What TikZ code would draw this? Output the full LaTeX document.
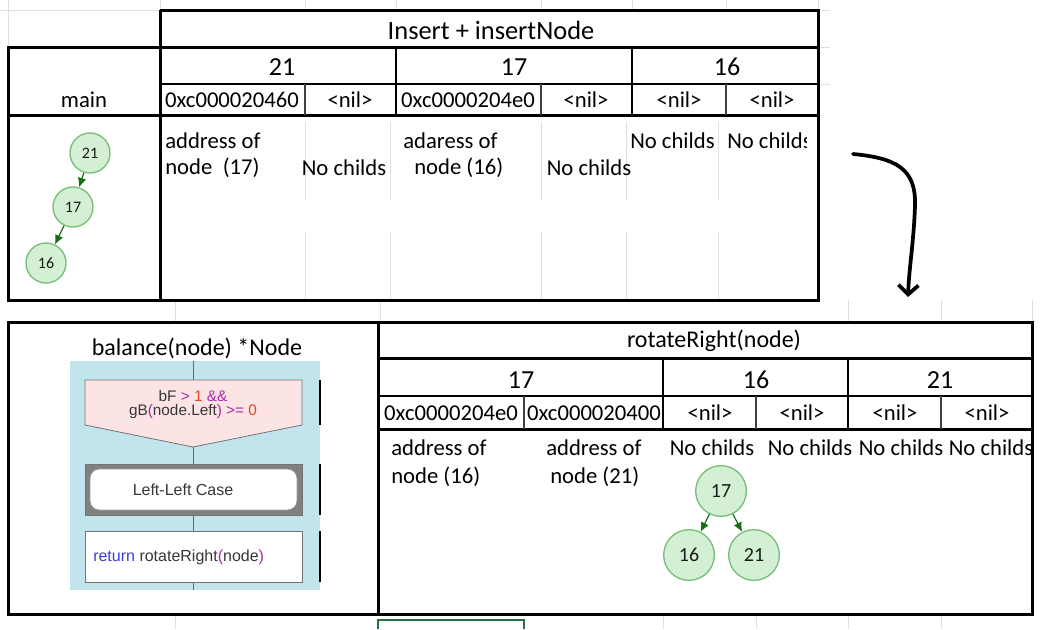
\documentclass[tikz,border=0pt]{standalone}
\usepackage{fontspec}
\setmainfont{Carlito}
\newfontfamily\flowfont{Liberation Sans}
\usetikzlibrary{arrows.meta}

\definecolor{nodeFill}{RGB}{212,240,212}
\definecolor{nodeLine}{RGB}{120,190,120}
\definecolor{edgeGreen}{RGB}{20,110,20}
\definecolor{flowBlue}{RGB}{194,228,236}
\definecolor{condPink}{RGB}{253,228,228}
\definecolor{opPurple}{RGB}{170,40,170}
\definecolor{numRed}{RGB}{225,70,40}
\definecolor{kwBlue}{RGB}{60,60,210}
\definecolor{codeGray}{RGB}{55,55,55}
\definecolor{caseGray}{RGB}{128,128,128}
\definecolor{selGreen}{RGB}{33,115,70}

\begin{document}
\begin{tikzpicture}[x=0.75pt,y=0.75pt,yscale=-1,xscale=1,
  thickline/.style={line width=2.25pt},
  midline/.style={line width=1.5pt},
  cellline/.style={line width=0.8pt,color=black!75},
  gridline/.style={line width=0.75pt,color=black!12},
  titletxt/.style={inner sep=0pt,font=\fontsize{18}{22}\selectfont},
  numtxt/.style={inner sep=0pt,font=\fontsize{19.5}{22}\selectfont},
  bodytxt/.style={inner sep=0pt,font=\fontsize{17}{20}\selectfont},
  treenode/.style={circle,draw=nodeLine,fill=nodeFill,line width=1pt,inner sep=0pt,text=black!90},
  treeedge/.style={edgeGreen,line width=0.9pt,-{Latex[length=7pt,width=6.5pt]}},
  flowtxt/.style={inner sep=0pt,text=codeGray,font=\flowfont\fontsize{11.5}{14}\selectfont}]
\useasboundingbox (0,0) rectangle (1048,629);

%Grid lines of the sheet
\draw[gridline] (8,0) -- (8,47) (0,10) -- (160,10) (160,0) -- (160,10) (305,0) -- (305,10) (396,0) -- (396,10) (541,0) -- (541,10) (632,0) -- (632,10) (726,0) -- (726,10) (818,0) -- (818,10);
\draw[gridline] (818,10) -- (830,10) (818,47) -- (830,47) (818,84) -- (830,84);
\draw[gridline] (305,122) -- (305,200) (305,232) -- (305,300) (390,122) -- (390,200) (390,232) -- (390,300) (541,122) -- (541,200) (541,232) -- (541,300) (626,122) -- (626,200) (626,232) -- (626,300) (718,122) -- (718,200) (718,232) -- (718,300);
\draw[gridline] (175,300) -- (175,322) (380,300) -- (380,322) (848,300) -- (848,322) (941,300) -- (941,322) (1032,300) -- (1032,322);
\draw[gridline] (175,614) -- (175,629) (663,614) -- (663,629) (756,614) -- (756,629) (848,614) -- (848,629) (941,614) -- (941,629);

%Table: Insert + insertNode
\draw[thickline] (160,10) -- (818,10) -- (818,300) -- (8,300) -- (8,47) -- (818,47);
\draw[thickline] (160,10) -- (160,300);
\draw[thickline] (8,115) -- (818,115);
\draw[midline] (160,84) -- (818,84);
\draw[midline] (396,47) -- (396,115) (632,47) -- (632,115);
\draw[cellline] (305,84) -- (305,115) (541,84) -- (541,115) (726,84) -- (726,115);

% Text Node
\node[titletxt,font=\fontsize{19.8}{22}\selectfont] (insertTitle) at (491,30) {Insert + insertNode};
\node[numtxt] (headA) at (282,67) {21};
\node[numtxt] (headB) at (514,67) {17};
\node[numtxt] (headC) at (727,67) {16};
\node[bodytxt] (mainLbl) at (84,100) {main};
\node[bodytxt] (ptrA) at (232,100) {0xc000020460};
\node[bodytxt] (nilA) at (350,100) {<nil>};
\node[bodytxt] (ptrB) at (468,100) {0xc0000204e0};
\node[bodytxt] (nilB) at (586,100) {<nil>};
\node[bodytxt] (nilC) at (679,100) {<nil>};
\node[bodytxt] (nilD) at (772,100) {<nil>};

% Text Node
\node[bodytxt,anchor=west] (addrA) at (165,141) {address of};
\node[bodytxt,anchor=west] (addrAnode) at (165,168) {node\hspace{4pt} (17)};
\node[bodytxt] (noneA) at (344,168) {No childs};
\node[bodytxt,anchor=west] (addrB) at (403,141) {adaress of};
\node[bodytxt,anchor=west] (addrBnode) at (414,168) {node (16)};
\node[bodytxt] (noneB) at (589,168) {No childs};
\node[bodytxt,anchor=west] (noneC) at (630,141) {No childs};
\begin{scope}
\clip (726,120) rectangle (806,160);
\node[bodytxt,anchor=west] (noneD) at (727,141) {No childs};
\end{scope}

%Tree before rotation
\node[treenode,minimum size=30pt,font=\fontsize{12}{14}\selectfont] (oldA) at (90,153) {21};
\node[treenode,minimum size=30pt,font=\fontsize{12}{14}\selectfont] (oldB) at (73,207) {17};
\node[treenode,minimum size=30pt,font=\fontsize{12}{14}\selectfont] (oldC) at (46,263) {16};
\draw[treeedge] (oldA) -- (oldB);
\draw[treeedge] (oldB) -- (oldC);

%Curved arrow
\coordinate (turnStart) at (853,154);
\coordinate (turnEnd) at (908,297);
\draw[line width=2.8pt,line cap=round,-{Straight Barb[length=7pt,width=15pt]}] (turnStart) .. controls (895,158) and (916,168) .. (915,205) .. controls (914,240) and (909,268) .. (turnEnd);

%Table: balance + rotateRight
\draw[thickline] (8,322) rectangle (1032,614);
\draw[thickline] (378,322) -- (378,614);
\draw[thickline] (378,358) -- (1032,358);
\draw[midline] (378,396) -- (1032,396);
\draw[thickline] (378,429) -- (1032,429);
\draw[midline] (663,358) -- (663,429) (848,358) -- (848,429);
\draw[cellline] (524,396) -- (524,429) (756,396) -- (756,429) (941,396) -- (941,429);

% Text Node
\node[titletxt] (balanceTitle) at (197,348) {balance(node) *Node};
\node[titletxt] (rotateTitle) at (714,341) {rotateRight(node)};
\node[numtxt] (rotA) at (521,380) {17};
\node[numtxt] (rotB) at (756,380) {16};
\node[numtxt] (rotC) at (940,380) {21};
\node[bodytxt] (rptrA) at (451,413) {0xc0000204e0};
\node[bodytxt] (rptrB) at (594,413) {0xc000020400};
\node[bodytxt] (rnilA) at (710,413) {<nil>};
\node[bodytxt] (rnilB) at (802,413) {<nil>};
\node[bodytxt] (rnilC) at (895,413) {<nil>};
\node[bodytxt] (rnilD) at (987,413) {<nil>};
\node[bodytxt,anchor=west] (raddrA) at (391,448) {address of};
\node[bodytxt,anchor=west] (raddrAnode) at (391,477) {node (16)};
\node[bodytxt,anchor=west] (raddrB) at (546,448) {address of};
\node[bodytxt,anchor=west] (raddrBnode) at (550,477) {node (21)};
\node[bodytxt] (rnoneA) at (712,448) {No childs};
\node[bodytxt] (rnoneB) at (810,448) {No childs};
\node[bodytxt] (rnoneC) at (901,448) {No childs};
\node[bodytxt] (rnoneD) at (991,448) {No childs};

%Tree after rotation
\node[treenode,minimum size=38pt,font=\fontsize{15}{17}\selectfont] (newRoot) at (721,491) {17};
\node[treenode,minimum size=38pt,font=\fontsize{15}{17}\selectfont] (newLeft) at (689,555) {16};
\node[treenode,minimum size=38pt,font=\fontsize{15}{17}\selectfont] (newRight) at (754,555) {21};
\draw[treeedge] (newRoot) -- (newLeft);
\draw[treeedge] (newRoot) -- (newRight);

%Selected cell
\draw[selGreen,line width=1.5pt] (378,629) -- (378,620) -- (524,620) -- (524,629);

%Flowchart of balance
\fill[flowBlue] (70,361) rectangle (320,590);
\draw[black!60,line width=0.75pt] (193,361) -- (193,590);
\draw[black,line width=1.5pt] (320,380) -- (320,425) (320,464) -- (320,515) (320,531) -- (320,582);
\draw[black!55,fill=condPink,line width=0.6pt] (85,380) -- (302,380) -- (302,425) -- (193,447) -- (85,425) -- cycle;
\node[flowtxt] (condTop) at (193,396) {bF \textcolor{opPurple}{>} \textcolor{numRed}{1} \textcolor{opPurple}{\&\&}};
\node[flowtxt] (condBot) at (193,412) {gB\textcolor{opPurple}{(}node.Left\textcolor{opPurple}{)} \textcolor{opPurple}{>=} \textcolor{numRed}{0}};
\draw[black!55,fill=caseGray,line width=0.6pt] (85,464) rectangle (302,515);
\draw[black!40,fill=white,line width=0.6pt,rounded corners=7pt] (90,469) rectangle (297,510);
\node[flowtxt,font=\flowfont\fontsize{12}{14}\selectfont] (caseLbl) at (183,490) {Left-Left Case};
\draw[black!55,fill=white,line width=0.6pt] (85,531) rectangle (302,582);
\node[flowtxt,anchor=west,font=\flowfont\fontsize{12}{14}\selectfont] (returnLbl) at (93,557) {\textcolor{kwBlue}{return} rotateRight\textcolor{opPurple}{(}node\textcolor{opPurple}{)}};

\end{tikzpicture}
\end{document}
